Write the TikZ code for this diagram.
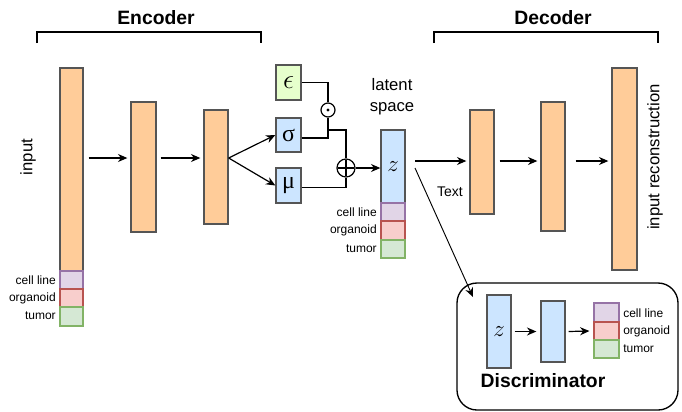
\documentclass[tikz,border=0pt]{standalone}
\usepackage{fontspec}
\setmainfont{Liberation Sans}
\newfontfamily\serifgr{Liberation Serif}
\usetikzlibrary{fit,arrows.meta,calc}
\definecolor{orangeF}{HTML}{FFCC99}
\definecolor{blueF}{HTML}{CCE5FF}
\definecolor{epsF}{HTML}{E6FFCC}
\definecolor{strokeC}{HTML}{555555}
\definecolor{purF}{HTML}{E1D5E7}\definecolor{purD}{HTML}{9673A6}
\definecolor{redF}{HTML}{F8CECC}\definecolor{redD}{HTML}{B85450}
\definecolor{grnF}{HTML}{D5E8D4}\definecolor{grnD}{HTML}{82B366}
\begin{document}
\begin{tikzpicture}[x=0.75pt,y=-0.75pt,
  box/.style={draw=strokeC,line width=1pt,inner sep=0pt},
  obar/.style={box,fill=orangeF},
  bbar/.style={box,fill=blueF},
  ebar/.style={box,fill=epsF},
  cl/.style={draw=purD,fill=purF,line width=0.8pt,inner sep=0pt},
  og/.style={draw=redD,fill=redF,line width=0.8pt,inner sep=0pt},
  tm/.style={draw=grnD,fill=grnF,line width=0.8pt,inner sep=0pt},
  lab/.style={font=\fontsize{9}{10}\selectfont,inner sep=0pt},
  arr/.style={line width=0.9pt,-{Stealth[length=7pt,width=6pt]}},
  ln/.style={line width=0.9pt},
  brace/.style={line width=1.4pt},
  title/.style={font=\bfseries\fontsize{14.5}{16}\selectfont},
  sym/.style={font=\fontsize{18}{20}\selectfont,inner sep=0pt},
  esym/.style={font=\fontsize{21}{22}\selectfont,inner sep=0pt},
  zsym/.style={font=\fontsize{17}{20}\selectfont,inner sep=0pt},
  big/.style={font=\fontsize{12.5}{16}\selectfont}
]
\useasboundingbox (0,0) rectangle (682,411);
% Encoder
\node[title] (enct) at (156,18) {Encoder};
\coordinate (eb1) at (37,43); \coordinate (eb2) at (261,43);
\draw[brace] (eb1) -- ++(0,-11) -| (eb2);
\node[obar,fit={(60,68)(83,271)}] (in) {};
\node[cl,fit={(60,271)(83,289)}] (incl) {};
\node[og,fit={(60,289)(83,307)}] (inog) {};
\node[tm,fit={(60,307)(83,326)}] (intm) {};
\node[lab,anchor=east] (l1) at (56,280) {cell line};
\node[lab,anchor=east] (l2) at (56,298) {organoid};
\node[lab,anchor=east] (l3) at (56,316) {tumor};
\node[rotate=90,big] (inlab) at (28,157) {input};
\node[obar,fit={(131,102)(156,232)}] (e2) {};
\node[obar,fit={(204,110)(228,224)}] (e3) {};
\coordinate (ey) at (0,158);
\draw[arr] ($(in.east |- ey)+(5,0)$) -- ($(e2.west |- ey)+(-3,0)$);
\draw[arr] ($(e2.east |- ey)+(4,0)$) -- ($(e3.west |- ey)+(-3,0)$);
% sampling
\node[ebar,fit={(276,65)(301,100)}] (eps) {};
\node[esym] (epst) at (eps.center) {$\epsilon$};
\node[bbar,fit={(276,118)(301,152)}] (sig) {};
\node[sym] (sigt) at (sig.center) {\serifgr σ};
\node[bbar,fit={(276,168)(301,203)}] (mu) {};
\node[sym] (mut) at (mu.center) {\serifgr μ};
\draw[arr] (e3.east |- ey) -- (sig.west);
\draw[arr] (e3.east |- ey) -- (mu.west);
\node[circle,draw,line width=0.9pt,minimum size=10.5pt,inner sep=0pt,fill=white] (odot) at (328,110) {};
\fill (odot.center) circle (1.6);
\node[circle,draw,line width=0.9pt,minimum size=13.5pt,inner sep=0pt,fill=white] (oplus) at (346,168) {};
\draw[ln] ($(oplus.north)+(0,2)$) -- ($(oplus.south)+(0,-2)$);
\draw[ln] ($(oplus.west)+(2,0)$) -- ($(oplus.east)+(-2,0)$);
\draw[ln] (eps.east) -| (odot.north);
\draw[ln] ($(sig.east)+(0,3)$) -| (odot.south);
\coordinate (jn) at (328,130);
\draw[ln] (jn) -| (oplus.north);
\draw[ln] ($(mu.east)+(0,2)$) -| (oplus.south);
% latent
\node[bbar,fit={(381,130)(405,203)}] (z) {};
\node[zsym] (zt) at (z.center) {$z$};
\node[cl,fit={(381,203)(405,221)}] (zcl) {};
\node[og,fit={(381,221)(405,240)}] (zog) {};
\node[tm,fit={(381,240)(405,258)}] (ztm) {};
\node[lab,anchor=east] (zl1) at (377,212) {cell line};
\node[lab,anchor=east] (zl2) at (377,230) {organoid};
\node[lab,anchor=east] (zl3) at (377,249) {tumor};
\node[align=center,big] (lat) at (392,97) {latent\\space};
\draw[arr] (oplus) -- (z.west |- oplus);
% Decoder
\node[title] (dect) at (553,18) {Decoder};
\coordinate (db1) at (434,43); \coordinate (db2) at (658,43);
\draw[brace] (db1) -- ++(0,-11) -| (db2);
\node[obar,fit={(470,110)(494,214)}] (d1) {};
\node[obar,fit={(541,102)(565,231)}] (d2) {};
\node[obar,fit={(612,68)(637,270)}] (d3) {};
\coordinate (zo) at (415,161);
\draw[arr] (zo) -- ($(d1.west |- zo)+(-3,0)$);
\draw[arr] ($(d1.east |- zo)+(5,0)$) -- ($(d2.west |- zo)+(-3,0)$);
\draw[arr] ($(d2.east |- zo)+(10,0)$) -- ($(d3.west |- zo)+(-3,0)$);
\node[rotate=90,big] (outlab) at (655,157) {input reconstruction};
\node[font=\fontsize{10.5}{12}\selectfont] (txt) at (450,192) {Text};
% Discriminator
\node[draw,line width=1pt,rounded corners=15,fit={(457,283)(678,410)},inner sep=0pt] (disc) {};
\coordinate (zd) at (415,168);
\coordinate (dt) at (473,297);
\draw[arr,line width=0.7pt] (zd) -- (dt);
\node[bbar,fit={(487,295)(511,368)}] (dz) {};
\node[zsym] (dzt) at (dz.center) {$z$};
\node[bbar,fit={(541,301)(565,362)}] (dh) {};
\node[cl,fit={(594,303)(619,322)}] (dcl) {};
\node[og,fit={(594,322)(619,340)}] (dog) {};
\node[tm,fit={(594,340)(619,358)}] (dtm) {};
\node[lab,anchor=west] (dl1) at (623,313) {cell line};
\node[lab,anchor=west] (dl2) at (623,331) {organoid};
\node[lab,anchor=west] (dl3) at (623,349) {tumor};
\draw[arr] ($(dz.east)+(3,0)$) -- ($(dh.west)+(-4,0)$);
\draw[arr] ($(dh.east)+(3,0)$) -- ($(dog.west)+(-4,0)$);
\node[title] (disct) at (543,381) {Discriminator};
\end{tikzpicture}
\end{document}
